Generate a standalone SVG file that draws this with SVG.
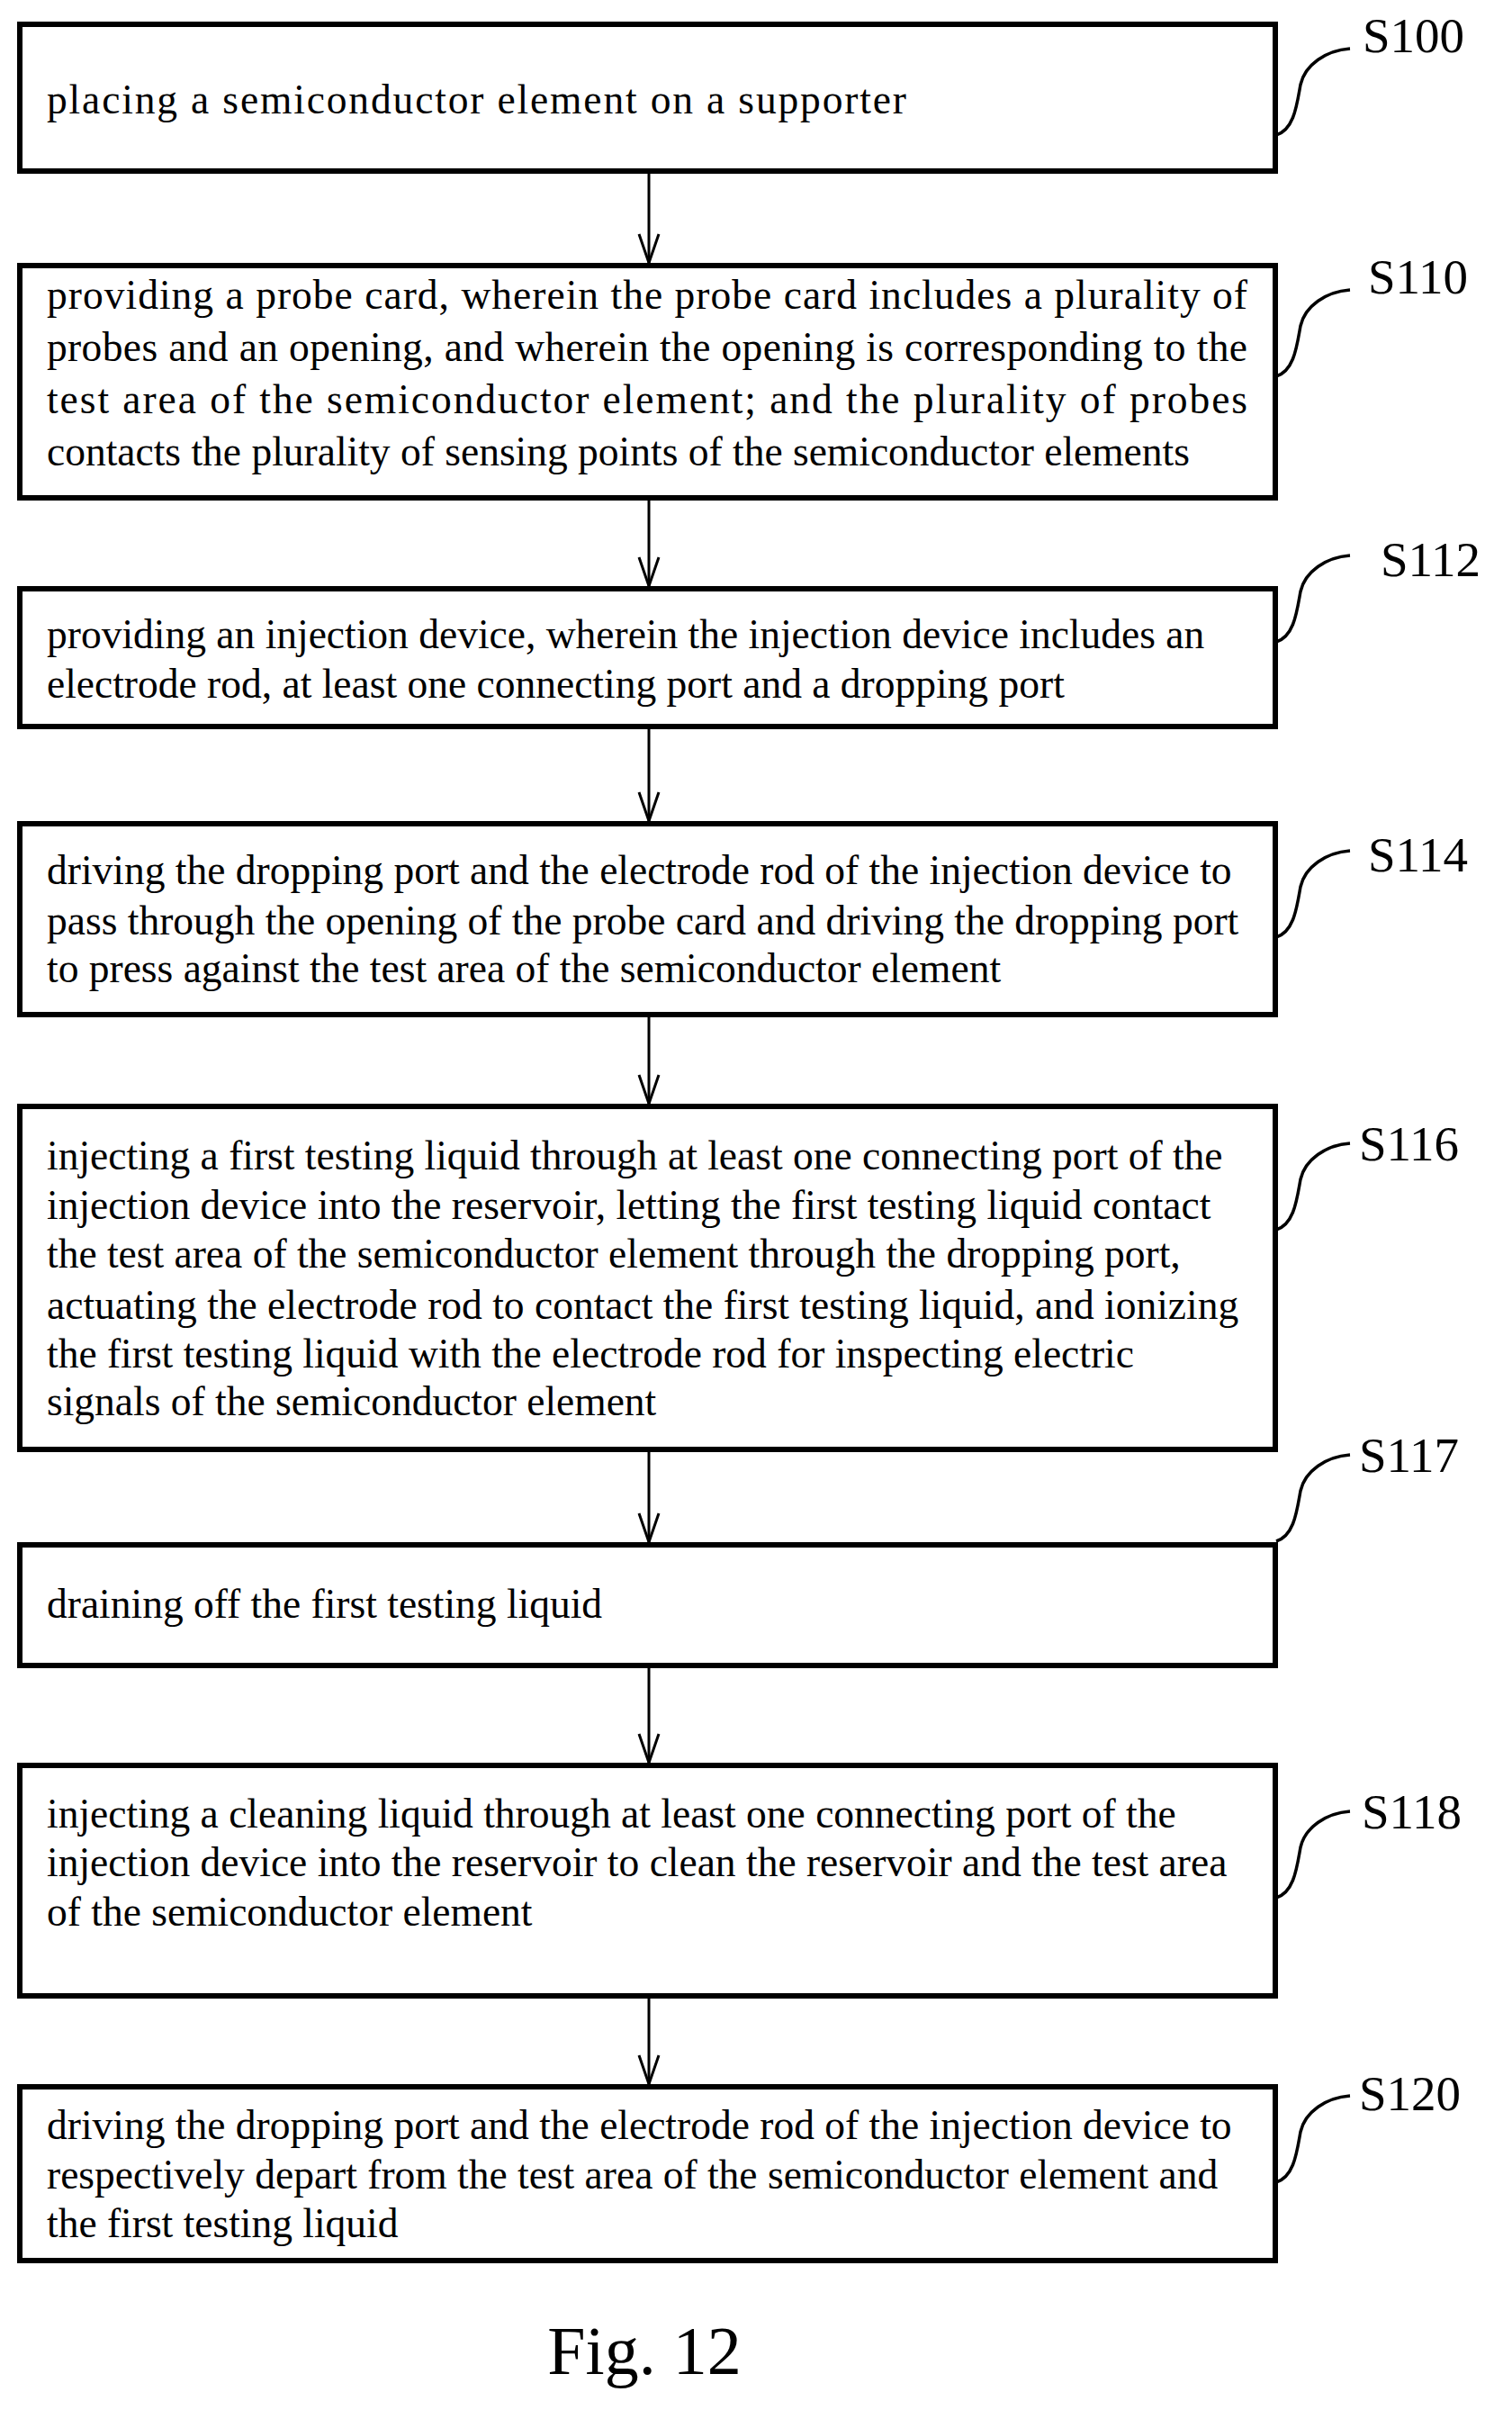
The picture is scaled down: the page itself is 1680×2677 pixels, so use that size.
<svg xmlns="http://www.w3.org/2000/svg" width="1680" height="2677" viewBox="0 0 1680 2677">
<style>
.box{fill:#fff;stroke:#000;stroke-width:6}
.t{font-family:"Liberation Serif",serif;font-size:45.5px;fill:#000}
.lb{font-family:"Liberation Serif",serif;font-size:55px;fill:#000}
.sq{fill:none;stroke:#000;stroke-width:3.5}
.ar{fill:none;stroke:#000;stroke-width:3}
</style>
<defs>
<path id="sqp" d="M0 0 c20 -6 23 -34 27 -56 c5 -22 28 -38 55 -40"/>
<path id="ah" d="M-11 -32 L0 0 L11 -32" fill="none" stroke="#000" stroke-width="3"/>
</defs>
<rect width="1680" height="2677" fill="#fff"/>
<g id="connectors">
<line class="ar" x1="721" y1="190" x2="721" y2="292"/><use href="#ah" x="721" y="292"/>
<line class="ar" x1="721" y1="553" x2="721" y2="651"/><use href="#ah" x="721" y="651"/>
<line class="ar" x1="721" y1="807" x2="721" y2="912"/><use href="#ah" x="721" y="912"/>
<line class="ar" x1="721" y1="1127" x2="721" y2="1226"/><use href="#ah" x="721" y="1226"/>
<line class="ar" x1="721" y1="1610" x2="721" y2="1713"/><use href="#ah" x="721" y="1713"/>
<line class="ar" x1="721" y1="1850" x2="721" y2="1958"/><use href="#ah" x="721" y="1958"/>
<line class="ar" x1="721" y1="2217" x2="721" y2="2315"/><use href="#ah" x="721" y="2315"/>
</g>
<g id="S100"><rect class="box" x="22" y="27" width="1395" height="163"/>
<text class="t" x="52" y="126" textLength="955" lengthAdjust="spacing">placing a semiconductor element on a supporter</text>
<use href="#sqp" class="sq" x="1418" y="150"/><text class="lb" x="1514" y="58">S100</text></g>
<g id="S110"><rect class="box" x="22" y="295" width="1395" height="258"/>
<text class="t" x="52" y="343" textLength="1334" lengthAdjust="spacing">providing a probe card, wherein the probe card includes a plurality of</text>
<text class="t" x="52" y="401" textLength="1334" lengthAdjust="spacing">probes and an opening, and wherein the opening is corresponding to the</text>
<text class="t" x="52" y="459" textLength="1334" lengthAdjust="spacing">test area of the semiconductor element; and the plurality of probes</text>
<text class="t" x="52" y="517">contacts the plurality of sensing points of the semiconductor elements</text>
<use href="#sqp" class="sq" x="1418" y="418"/><text class="lb" x="1520" y="326">S110</text></g>
<g id="S112"><rect class="box" x="22" y="654" width="1395" height="153"/>
<text class="t" x="52" y="720">providing an injection device, wherein the injection device includes an</text>
<text class="t" x="52" y="775">electrode rod, at least one connecting port and a dropping port</text>
<use href="#sqp" class="sq" x="1418" y="713"/><text class="lb" x="1534" y="640">S112</text></g>
<g id="S114"><rect class="box" x="22" y="915" width="1395" height="212"/>
<text class="t" x="52" y="982">driving the dropping port and the electrode rod of the injection device to</text>
<text class="t" x="52" y="1038">pass through the opening of the probe card and driving the dropping port</text>
<text class="t" x="52" y="1091">to press against the test area of the semiconductor element</text>
<use href="#sqp" class="sq" x="1418" y="1041"/><text class="lb" x="1520" y="968">S114</text></g>
<g id="S116"><rect class="box" x="22" y="1229" width="1395" height="381"/>
<text class="t" x="52" y="1299">injecting a first testing liquid through at least one connecting port of the</text>
<text class="t" x="52" y="1354">injection device into the reservoir, letting the first testing liquid contact</text>
<text class="t" x="52" y="1408">the test area of the semiconductor element through the dropping port,</text>
<text class="t" x="52" y="1465">actuating the electrode rod to contact the first testing liquid, and ionizing</text>
<text class="t" x="52" y="1519">the first testing liquid with the electrode rod for inspecting electric</text>
<text class="t" x="52" y="1572">signals of the semiconductor element</text>
<use href="#sqp" class="sq" x="1418" y="1366"/><text class="lb" x="1510" y="1289">S116</text></g>
<g id="S117"><rect class="box" x="22" y="1716" width="1395" height="134"/>
<text class="t" x="52" y="1797">draining off the first testing liquid</text>
<use href="#sqp" class="sq" x="1418" y="1712"/><text class="lb" x="1510" y="1635">S117</text></g>
<g id="S118"><rect class="box" x="22" y="1961" width="1395" height="256"/>
<text class="t" x="52" y="2030">injecting a cleaning liquid through at least one connecting port of the</text>
<text class="t" x="52" y="2084">injection device into the reservoir to clean the reservoir and the test area</text>
<text class="t" x="52" y="2139">of the semiconductor element</text>
<use href="#sqp" class="sq" x="1418" y="2108"/><text class="lb" x="1513" y="2031">S118</text></g>
<g id="S120"><rect class="box" x="22" y="2318" width="1395" height="193"/>
<text class="t" x="52" y="2376">driving the dropping port and the electrode rod of the injection device to</text>
<text class="t" x="52" y="2431">respectively depart from the test area of the semiconductor element and</text>
<text class="t" x="52" y="2485">the first testing liquid</text>
<use href="#sqp" class="sq" x="1418" y="2424"/><text class="lb" x="1510" y="2344">S120</text></g>
<text x="716" y="2637" text-anchor="middle" font-family="Liberation Serif, serif" font-size="76">Fig. 12</text>
</svg>
